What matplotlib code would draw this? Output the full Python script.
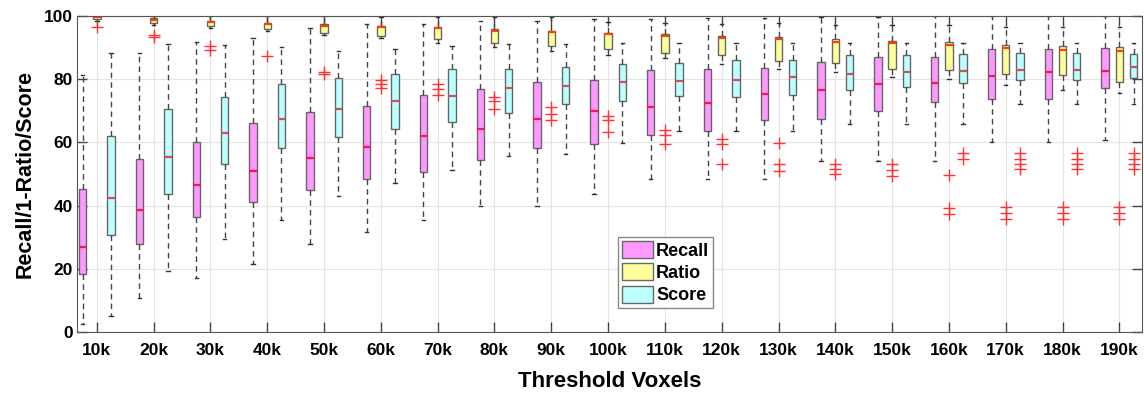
import matplotlib
matplotlib.use('Agg')
import matplotlib.pyplot as plt
from matplotlib.patches import Patch

plt.rcParams['font.family'] = 'Liberation Sans'
plt.rcParams['font.weight'] = 'bold'

RECALL_C = '#FF99FF'
RATIO_C = '#FFFF99'
SCORE_C = '#BBFFFF'

labels = ['10k', '20k', '30k', '40k', '50k', '60k', '70k', '80k', '90k', '100k',
          '110k', '120k', '130k', '140k', '150k', '160k', '170k', '180k', '190k']

recall_lo = [2.4, 10.8, 17.2, 21.4, 27.8, 31.7, 35.4, 39.9, 39.9, 43.6,
             48.3, 48.3, 48.3, 54.1, 54.1, 54.1, 60.2, 60.2, 60.7]
recall_q1 = [18.2, 27.8, 36.4, 41.2, 44.9, 48.4, 50.7, 54.4, 58.1, 59.5,
             62.2, 63.7, 67.1, 67.5, 70.0, 72.7, 73.6, 73.6, 77.1]
recall_med = [26.9, 38.5, 46.5, 50.9, 55.2, 58.6, 62.0, 64.1, 67.3, 69.9,
              71.1, 72.5, 75.2, 76.6, 78.5, 78.9, 81.1, 82.2, 82.6]
recall_q3 = [45.2, 54.9, 60.2, 66.0, 69.6, 71.4, 75.0, 76.9, 79.1, 79.9,
             82.9, 83.3, 83.7, 85.5, 87.1, 87.0, 89.4, 89.4, 89.8]
recall_hi = [81.2, 88.4, 91.7, 93.1, 96.3, 97.5, 97.5, 98.4, 98.4, 98.9,
             98.9, 99.5, 99.5, 99.8, 99.8, 100, 100, 100, 100]

ratio_lo = [98.5, 97.3, 96.3, 95.2, 94.0, 93.0, 91.6, 90.3, 89.0, 87.6,
            86.6, 84.8, 83.1, 82.4, 80.8, 80.0, 78.1, 76.6, 75.5]
ratio_q1 = [99.0, 97.9, 96.8, 95.8, 94.5, 93.7, 92.6, 91.3, 90.5, 89.4,
            88.4, 87.5, 85.8, 85.0, 83.1, 82.9, 81.5, 81.2, 79.1]
ratio_med = [99.6, 98.7, 98.1, 97.5, 96.9, 96.6, 96.1, 95.4, 94.8, 94.3,
             93.7, 93.1, 92.6, 91.9, 91.3, 90.9, 89.8, 89.2, 89.0]
ratio_q3 = [100.0, 99.3, 98.5, 97.9, 97.4, 96.9, 96.4, 95.8, 95.4, 94.7,
            94.2, 93.7, 93.2, 92.6, 92.1, 91.7, 90.8, 90.5, 90.1]
ratio_hi = [100, 100, 100, 100, 100, 99.6, 99.6, 99.6, 99.6, 98.2,
            97.9, 97.5, 97.7, 97.1, 97.1, 97.1, 96.6, 96.6, 96.6]
ratio_out = [[96.6], [94.0, 93.2], [90.5, 89.3], [87.3], [82.4, 81.6],
             [79.7, 78.5, 77.1], [78.5, 77.0, 75.0], [74.5, 73.0, 70.6],
             [71.3, 69.1, 67.1], [68.5, 67.1, 63.3], [64.0, 62.5, 59.5],
             [61.0, 59.5, 53.2], [59.7, 53.3, 51.0], [53.3, 51.7, 50.0],
             [53.1, 51.4, 49.3], [49.6, 39.3, 37.5], [39.5, 37.7, 35.8],
             [39.5, 37.7, 35.8], [39.5, 37.7, 35.8]]

score_lo = [5.0, 19.3, 29.4, 35.4, 43.1, 47.2, 51.2, 55.8, 56.3, 59.7,
            63.7, 63.7, 63.7, 65.7, 65.7, 65.7, 72.3, 72.3, 72.3]
score_q1 = [30.8, 43.6, 53.2, 58.3, 61.6, 64.3, 66.4, 69.4, 72.0, 73.1,
            74.7, 74.4, 75.0, 76.6, 77.4, 78.9, 79.7, 79.7, 80.3]
score_med = [42.4, 55.4, 63.1, 67.3, 70.5, 73.1, 74.8, 77.3, 77.9, 79.0,
             79.5, 79.7, 80.6, 81.6, 82.2, 82.6, 82.9, 82.9, 83.9]
score_q3 = [62.1, 70.5, 74.4, 78.4, 80.3, 81.7, 83.3, 83.3, 83.9, 84.7,
            85.0, 86.1, 86.1, 87.5, 87.5, 88.0, 88.2, 88.2, 88.0]
score_hi = [88.4, 91.0, 90.8, 90.3, 88.9, 89.7, 90.5, 91.0, 91.0, 91.3,
            91.3, 91.6, 91.6, 91.6, 91.6, 91.6, 91.6, 91.6, 91.6]
score_out = [[], [], [], [], [], [], [], [], [], [], [], [], [], [], [],
             [56.5, 54.8], [56.5, 54.8, 53.2, 51.6], [56.5, 54.8, 53.2, 51.6],
             [56.5, 54.8, 53.2, 51.6]]


def make_stats(lo, q1, med, q3, hi, out=None):
    stats = []
    for i in range(len(lo)):
        stats.append({'whislo': lo[i], 'q1': q1[i], 'med': med[i], 'q3': q3[i],
                      'whishi': hi[i], 'fliers': out[i] if out else []})
    return stats


fig, ax = plt.subplots(figsize=(11.44, 3.96), dpi=100)
fig.subplots_adjust(left=0.0673, right=0.9983, top=0.9596, bottom=0.1616)

pos = list(range(1, len(labels) + 1))
series = [
    (make_stats(recall_lo, recall_q1, recall_med, recall_q3, recall_hi), -0.25, RECALL_C, '#FF1060'),
    (make_stats(ratio_lo, ratio_q1, ratio_med, ratio_q3, ratio_hi, ratio_out), 0.0, RATIO_C, '#FF4000'),
    (make_stats(score_lo, score_q1, score_med, score_q3, score_hi, score_out), 0.25, SCORE_C, '#D05060'),
]
for stats, off, color, medc in series:
    ax.bxp(stats, positions=[p + off for p in pos], widths=0.13, capwidths=0.06,
           patch_artist=True, manage_ticks=False,
           boxprops=dict(facecolor=color, edgecolor='#666666', linewidth=1),
           whiskerprops=dict(color='#444444', linestyle=(0, (4, 3)), linewidth=1),
           capprops=dict(color='#333333', linewidth=1),
           medianprops=dict(color=medc, linewidth=1.6),
           flierprops=dict(marker='+', markeredgecolor='#FF3333', markersize=8,
                           markeredgewidth=1, linestyle='none'))

ax.set_xlim(0.65, 19.4)
ax.set_ylim(0, 100)
ax.set_xticks(pos)
ax.set_xticklabels(labels)
ax.set_yticks([0, 20, 40, 60, 80, 100])
ax.tick_params(direction='in', length=7, width=1, color='#444444', top=True, right=True,
               labelsize=12.5)
ax.tick_params(axis='x', pad=8)
ax.tick_params(axis='y', pad=3)
ax.grid(True, color='#e4e4e4', linewidth=0.8)
ax.set_axisbelow(True)
for sp in ax.spines.values():
    sp.set_color('#555555')

ax.set_xlabel('Threshold Voxels', fontsize=16, fontweight='bold', labelpad=9)
ax.set_ylabel('Recall/1-Ratio/Score', fontsize=15.5, fontweight='bold', labelpad=6)

handles = [Patch(facecolor=RECALL_C, edgecolor='#666666', label='Recall'),
           Patch(facecolor=RATIO_C, edgecolor='#666666', label='Ratio'),
           Patch(facecolor=SCORE_C, edgecolor='#666666', label='Score')]
leg = ax.legend(handles=handles, loc='lower left', bbox_to_anchor=(0.508, 0.076),
                borderaxespad=0, fancybox=False, framealpha=1, edgecolor='#888888',
                handlelength=1.75, handleheight=1.1, handletextpad=0.15,
                labelspacing=0.2, borderpad=0.2, prop={'size': 13, 'weight': 'bold'})

fig.savefig('out.png', dpi=100)
